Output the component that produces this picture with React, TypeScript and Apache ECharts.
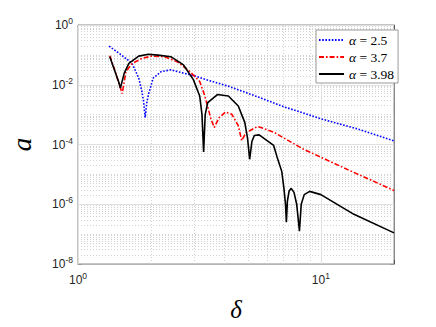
import React, { useEffect, useRef } from "react";
import * as echarts from "echarts";

// delta (x) and amplitude a (y)
const deltaA25 = [1.343, 1.48, 1.67, 1.778, 1.83, 1.862, 1.89, 1.92, 1.95, 2.04, 2.2, 2.41, 2.72, 3.08, 3.37, 4.17, 5.66, 7.0, 10.09, 14.0, 20.0];
const ampA25 = [0.195, 0.112, 0.052, 0.0168, 0.0063, 0.0028, 0.0008, 0.0025, 0.0047, 0.0168, 0.0275, 0.0316, 0.0245, 0.019, 0.0148, 0.0089, 0.0036, 0.00186, 0.00071, 0.00034, 0.000132];

const deltaA37 = [1.352, 1.415, 1.48, 1.52, 1.557, 1.575, 1.673, 1.833, 2.01, 2.27, 2.56, 2.89, 3.17, 3.32, 3.53, 3.64, 3.81, 4.05, 4.3, 4.57, 4.72, 4.92, 5.09, 5.49, 5.66, 6.39, 8.41, 12.9, 20.0];
const ampA37 = [0.093, 0.032, 0.01, 0.0051, 0.0158, 0.0275, 0.052, 0.076, 0.091, 0.087, 0.059, 0.0275, 0.0129, 0.0045, 0.0007, 0.00037, 0.00079, 0.00123, 0.00102, 0.00043, 0.000135, 0.00025, 0.00029, 0.0004, 0.00037, 0.00026, 0.000072, 0.0000144, 0.0000029];

const deltaA398 = [1.352, 1.42, 1.47, 1.495, 1.55, 1.62, 1.778, 1.949, 2.135, 2.41, 2.72, 2.985, 3.17, 3.24, 3.29, 3.34, 3.42, 3.75, 4.16, 4.57, 4.86, 4.99, 5.09, 5.2, 5.32, 5.57, 6.39, 6.59, 6.9, 7.05, 7.15, 7.21, 7.28, 7.4, 7.55, 7.75, 7.95, 8.16, 8.3, 8.54, 8.99, 10.0, 13.68, 20.0];
const ampA398 = [0.087, 0.028, 0.0126, 0.0078, 0.0245, 0.052, 0.091, 0.105, 0.098, 0.087, 0.046, 0.0148, 0.0042, 0.001, 0.000056, 0.001, 0.0025, 0.0047, 0.0042, 0.00195, 0.00055, 0.00016, 0.000032, 0.000126, 0.0002, 0.00021, 0.000093, 0.00004, 0.0000126, 0.0000032, 0.000001, 0.00000025, 0.00000126, 0.0000028, 0.0000034, 0.0000025, 0.000001, 0.000000126, 0.000001, 0.0000021, 0.0000027, 0.0000021, 0.00000046, 0.00000011];

const seriesNames = ["α = 2.5", "α = 3.7", "α = 3.98"];
const xRange = [1, 20];
const yRange = [1e-8, 1];
const xMajorTicks = [1, 10];
const yMajorTicks = [1e-8, 1e-6, 1e-4, 1e-2, 1];

export default function App() {
  const ref = useRef<HTMLDivElement>(null);
  useEffect(() => {
    document.body.style.margin = "0";
    const chart = echarts.init(ref.current!, null, { renderer: "svg" });
    const pairs = (xs: number[], ys: number[]) => xs.map((x, i) => [x, ys[i]]);
    const fmt = (v: number) => {
      const l = Math.log10(v);
      const e = Math.round(l);
      if (Math.abs(l - e) > 1e-6) return "";
      return `{b|10}{s|${e}}`;
    };
    const fmtY = (v: number) => {
      const e = Math.round(Math.log10(v));
      if (e % 2 !== 0) return "";
      return fmt(v);
    };
    const rich = {
      b: { fontSize: 12, fontFamily: "Liberation Sans, Arial", color: "#262626" },
      s: { fontSize: 8.5, fontFamily: "Liberation Sans, Arial", color: "#262626", padding: [0, 0, 8, 0] },
    };

    // grid lines drawn through the axes' own log scales
    const vLine = (x: number) => ({ coords: [[x, yRange[0]], [x, yRange[1]]] });
    const hLine = (y: number) => ({ coords: [[xRange[0], y], [xRange[1], y]] });
    const minorLines: any[] = [];
    for (let m = 2; m <= 9; m++) minorLines.push(vLine(m));
    for (let k = -8; k < 0; k++) {
      if (k % 2 !== 0) minorLines.push(hLine(Math.pow(10, k)));
      for (let m = 2; m <= 9; m++) minorLines.push(hLine(m * Math.pow(10, k)));
    }
    const majorLines: any[] = [...xMajorTicks.map(vLine), ...yMajorTicks.map(hLine)];

    const axisCommon = {
      type: "log",
      logBase: 10,
      axisLine: { show: true, lineStyle: { color: "#8a8a8a", width: 1 } },
      axisTick: { show: true, inside: true, length: 4, lineStyle: { color: "#555" } },
      splitLine: { show: false },
      minorTick: { show: false },
    };

    const option: any = {
      animation: false,
      backgroundColor: "#ffffff",
      grid: {
        left: 67,
        top: 25,
        right: 42,
        bottom: 60,
        show: true,
        borderColor: "#8a8a8a",
        borderWidth: 1,
        backgroundColor: "#ffffff",
      },
      xAxis: [
        {
          ...axisCommon,
          min: xRange[0],
          max: xRange[1],
          interval: 1,
          position: "bottom",
          axisLabel: { formatter: fmt, rich, margin: 7 },
          name: "δ",
          nameLocation: "middle",
          nameGap: 33,
          nameTextStyle: { fontFamily: "Liberation Serif, DejaVu Serif", fontStyle: "italic", fontSize: 25, color: "#000" },
        },
        {
          ...axisCommon,
          min: xRange[0],
          max: xRange[1],
          interval: 1,
          position: "top",
          axisLabel: { show: false },
        },
      ],
      yAxis: [
        {
          ...axisCommon,
          min: yRange[0],
          max: yRange[1],
          interval: 2,
          position: "left",
          axisLabel: { formatter: fmtY, rich, margin: 5 },
          name: "a",
          nameLocation: "middle",
          nameRotate: 90,
          nameGap: 43,
          nameTextStyle: { fontFamily: "Liberation Serif, DejaVu Serif", fontStyle: "italic", fontSize: 27, color: "#000" },
        },
        {
          ...axisCommon,
          min: yRange[0],
          max: yRange[1],
          interval: 2,
          position: "right",
          axisLabel: { show: false },
        },
      ],
      legend: {
        data: seriesNames,
        orient: "vertical",
        left: 316,
        top: 30,
        itemWidth: 25,
        itemHeight: 10,
        itemGap: 3,
        padding: [3, 4, 2, 2],
        backgroundColor: "#ffffff",
        borderColor: "#9a9a9a",
        borderWidth: 1,
        borderRadius: 0,
        itemStyle: { opacity: 0 },
        formatter: (name: string) => `{i|α}{t|${name.slice(1)}}`,
        textStyle: {
          rich: {
            i: { fontFamily: "Liberation Serif, DejaVu Serif", fontStyle: "italic", fontSize: 13.5, color: "#000" },
            t: { fontFamily: "Liberation Serif, DejaVu Serif", fontSize: 13.5, color: "#000" },
          },
        },
      },
      series: [
        {
          type: "lines",
          name: "minor-grid",
          coordinateSystem: "cartesian2d",
          xAxisIndex: 0,
          yAxisIndex: 0,
          silent: true,
          z: 1,
          lineStyle: { color: "#d2d2d2", type: [1, 2], width: 1, opacity: 1 },
          data: minorLines,
        },
        {
          type: "lines",
          name: "major-grid",
          coordinateSystem: "cartesian2d",
          xAxisIndex: 0,
          yAxisIndex: 0,
          silent: true,
          z: 1,
          lineStyle: { color: "#e0e0e0", type: "solid", width: 1, opacity: 1 },
          data: majorLines,
        },
        {
          type: "line",
          name: seriesNames[0],
          data: pairs(deltaA25, ampA25),
          showSymbol: false,
          symbol: "none",
          z: 3,
          lineStyle: { color: "#0000ff", width: 1.6, type: [1.6, 1.6] },
          itemStyle: { color: "#0000ff" },
        },
        {
          type: "line",
          name: seriesNames[1],
          data: pairs(deltaA37, ampA37),
          showSymbol: false,
          symbol: "none",
          z: 4,
          lineStyle: { color: "#ff0000", width: 1.6, type: [5, 2, 1.6, 2] },
          itemStyle: { color: "#ff0000" },
        },
        {
          type: "line",
          name: seriesNames[2],
          data: pairs(deltaA398, ampA398),
          showSymbol: false,
          symbol: "none",
          z: 5,
          lineStyle: { color: "#000000", width: 1.6, type: "solid" },
          itemStyle: { color: "#000000" },
        },
      ],
    };
    chart.setOption(option);
    return () => chart.dispose();
  }, []);
  return <div ref={ref} style={{ position: "absolute", left: 0, top: 0, width: 436, height: 327 }} />;
}
